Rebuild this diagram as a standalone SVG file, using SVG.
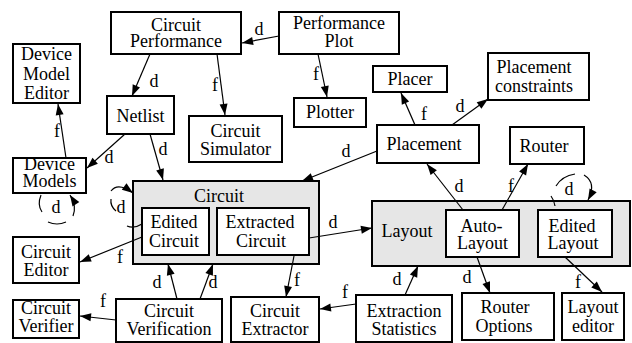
<svg xmlns="http://www.w3.org/2000/svg" width="632" height="343" viewBox="0 0 632 343">
<rect width="632" height="343" fill="#fff"/>
<g font-family="Liberation Serif" font-size="18" text-anchor="middle" fill="#000">
<g id="circuit-group">
<rect fill="#e6e6e6" stroke="#000" stroke-width="2" x="133" y="181" width="186" height="83"/>
<text font-family="Liberation Serif" x="219" y="202">Circuit</text>
</g>
<g id="layout-group">
<rect fill="#e6e6e6" stroke="#000" stroke-width="2" x="372" y="201" width="258" height="65"/>
<text font-family="Liberation Serif" x="407" y="237">Layout</text>
</g>
<g id="circuit-performance">
<rect fill="#fff" stroke="#000" stroke-width="2" x="111" y="12" width="130" height="42"/>
<text font-family="Liberation Serif" x="176" y="31">Circuit</text>
<text font-family="Liberation Serif" x="176" y="47">Performance</text>
</g>
<g id="performance-plot">
<rect fill="#fff" stroke="#000" stroke-width="2" x="279" y="12" width="120" height="42"/>
<text font-family="Liberation Serif" x="339" y="29">Performance</text>
<text font-family="Liberation Serif" x="339" y="47">Plot</text>
</g>
<g id="device-model-editor">
<rect fill="#fff" stroke="#000" stroke-width="2" x="13" y="44" width="67" height="59"/>
<text font-family="Liberation Serif" x="46.5" y="60">Device</text>
<text font-family="Liberation Serif" x="46.5" y="80">Model</text>
<text font-family="Liberation Serif" x="46.5" y="99">Editor</text>
</g>
<g id="netlist">
<rect fill="#fff" stroke="#000" stroke-width="2" x="107" y="96" width="67" height="38"/>
<text font-family="Liberation Serif" x="140.5" y="122">Netlist</text>
</g>
<g id="circuit-simulator">
<rect fill="#fff" stroke="#000" stroke-width="2" x="189" y="116" width="93" height="46"/>
<text font-family="Liberation Serif" x="235.5" y="137">Circuit</text>
<text font-family="Liberation Serif" x="235.5" y="155">Simulator</text>
</g>
<g id="plotter">
<rect fill="#fff" stroke="#000" stroke-width="2" x="294" y="98" width="72" height="29"/>
<text font-family="Liberation Serif" x="330" y="118">Plotter</text>
</g>
<g id="placer">
<rect fill="#fff" stroke="#000" stroke-width="2" x="373" y="66" width="74" height="26"/>
<text font-family="Liberation Serif" x="410" y="85">Placer</text>
</g>
<g id="placement-constraints">
<rect fill="#fff" stroke="#000" stroke-width="2" x="488" y="53" width="101" height="47"/>
<text font-family="Liberation Serif" x="534" y="73">Placement</text>
<text font-family="Liberation Serif" x="534" y="92">constraints</text>
</g>
<g id="placement">
<rect fill="#fff" stroke="#000" stroke-width="2" x="377" y="125" width="102" height="38"/>
<text font-family="Liberation Serif" x="424" y="150">Placement</text>
</g>
<g id="router">
<rect fill="#fff" stroke="#000" stroke-width="2" x="510" y="127" width="74" height="37"/>
<text font-family="Liberation Serif" x="544" y="152">Router</text>
</g>
<g id="device-models">
<rect fill="#fff" stroke="#000" stroke-width="2" x="13" y="158" width="73" height="35"/>
<text font-family="Liberation Serif" x="49.5" y="170">Device</text>
<text font-family="Liberation Serif" x="49.5" y="187">Models</text>
</g>
<g id="edited-circuit">
<rect fill="#fff" stroke="#000" stroke-width="2" x="142" y="208" width="67" height="47"/>
<text font-family="Liberation Serif" x="174" y="228">Edited</text>
<text font-family="Liberation Serif" x="174" y="247">Circuit</text>
</g>
<g id="extracted-circuit">
<rect fill="#fff" stroke="#000" stroke-width="2" x="217" y="208" width="92" height="47"/>
<text font-family="Liberation Serif" x="260" y="228">Extracted</text>
<text font-family="Liberation Serif" x="261" y="247">Circuit</text>
</g>
<g id="auto-layout">
<rect fill="#fff" stroke="#000" stroke-width="2" x="446" y="210" width="73" height="47"/>
<text font-family="Liberation Serif" x="481.5" y="232">Auto-</text>
<text font-family="Liberation Serif" x="482.5" y="249">Layout</text>
</g>
<g id="edited-layout">
<rect fill="#fff" stroke="#000" stroke-width="2" x="538" y="210" width="74" height="47"/>
<text font-family="Liberation Serif" x="572" y="232">Edited</text>
<text font-family="Liberation Serif" x="573" y="249">Layout</text>
</g>
<g id="circuit-editor">
<rect fill="#fff" stroke="#000" stroke-width="2" x="13" y="237" width="66" height="46"/>
<text font-family="Liberation Serif" x="46" y="258">Circuit</text>
<text font-family="Liberation Serif" x="46" y="276">Editor</text>
</g>
<g id="circuit-verifier">
<rect fill="#fff" stroke="#000" stroke-width="2" x="13" y="300" width="66" height="38"/>
<text font-family="Liberation Serif" x="46" y="314">Circuit</text>
<text font-family="Liberation Serif" x="46" y="332">Verifier</text>
</g>
<g id="circuit-verification">
<rect fill="#fff" stroke="#000" stroke-width="2" x="116" y="299" width="106" height="43"/>
<text font-family="Liberation Serif" x="169" y="317">Circuit</text>
<text font-family="Liberation Serif" x="169" y="335">Verification</text>
</g>
<g id="circuit-extractor">
<rect fill="#fff" stroke="#000" stroke-width="2" x="231" y="297" width="88" height="45"/>
<text font-family="Liberation Serif" x="275" y="317">Circuit</text>
<text font-family="Liberation Serif" x="275" y="335">Extractor</text>
</g>
<g id="extraction-statistics">
<rect fill="#fff" stroke="#000" stroke-width="2" x="356" y="295" width="96" height="47"/>
<text font-family="Liberation Serif" x="404" y="317">Extraction</text>
<text font-family="Liberation Serif" x="404" y="335">Statistics</text>
</g>
<g id="router-options">
<rect fill="#fff" stroke="#000" stroke-width="2" x="462" y="293" width="92" height="47"/>
<text font-family="Liberation Serif" x="505" y="313">Router</text>
<text font-family="Liberation Serif" x="504" y="332">Options</text>
</g>
<g id="layout-editor">
<rect fill="#fff" stroke="#000" stroke-width="2" x="562" y="293" width="62" height="47"/>
<text font-family="Liberation Serif" x="593" y="313">Layout</text>
<text font-family="Liberation Serif" x="593" y="332">editor</text>
</g>
</g>

<g id="connectors">
<g fill="none" stroke="#000" stroke-width="1.2">
<path d="M279 36 L242 43"/>
<path d="M318 54 L327 97"/>
<path d="M150 54 L132 96"/>
<path d="M217 54 L225 115"/>
<path d="M125 134 L87 168"/>
<path d="M150 134 L163 180"/>
<path d="M66 158 L58 104"/>
<path d="M41 195 Q37 205 42 212"/>
<path d="M48 222 Q57 226 66 222"/>
<path d="M73 216 Q77 206 70 195"/>
<path d="M111 191 Q118 182 133 193"/>
<path d="M111 199 Q110 206 116 211"/>
<path d="M127 226 Q134 229 142 224"/>
<path d="M142 237 L80 262"/>
<path d="M177 299 L168 264"/>
<path d="M200 299 L213 264"/>
<path d="M116 320 L80 316"/>
<path d="M294 256 L286 297"/>
<path d="M356 304 L320 309"/>
<path d="M405 295 L418 266"/>
<path d="M309 238 L372 228"/>
<path d="M377 151 L302 181"/>
<path d="M415 125 L401 93"/>
<path d="M452 125 L488 99"/>
<path d="M463 210 L427 164"/>
<path d="M502 210 L528 164"/>
<path d="M551 196 Q554 200 555 206"/>
<path d="M556 186 Q562 176 575 174"/>
<path d="M584 175 Q597 183 588 200"/>
<path d="M477 257 L490 293"/>
<path d="M565 257 L602 292"/>
</g>
<g fill="#000" stroke="none">
<polygon points="242,43 252.1,37.0 253.6,44.9"/>
<polygon points="327,97 320.8,87.1 328.7,85.4"/>
<polygon points="132,96 132.7,84.3 140.0,87.5"/>
<polygon points="225,115 219.6,104.6 227.5,103.6"/>
<polygon points="87,168 92.5,157.7 97.9,163.7"/>
<polygon points="163,180 156.2,170.5 163.9,168.3"/>
<polygon points="58,104 63.6,114.3 55.7,115.5"/>
<polygon points="70,195 79.3,202.1 72.5,206.4"/>
<polygon points="133,193 121.8,189.7 126.5,183.3"/>
<polygon points="80,262 88.7,254.2 91.7,261.6"/>
<polygon points="168,264 174.6,273.7 166.9,275.7"/>
<polygon points="213,264 212.9,275.7 205.4,272.9"/>
<polygon points="80,316 91.4,313.2 90.5,321.2"/>
<polygon points="286,297 284.2,285.4 292.0,287.0"/>
<polygon points="320,309 330.3,303.5 331.4,311.5"/>
<polygon points="418,266 417.2,277.7 409.9,274.4"/>
<polygon points="372,228 361.8,233.7 360.5,225.8"/>
<polygon points="302,181 310.7,173.2 313.7,180.6"/>
<polygon points="401,93 409.1,101.5 401.8,104.7"/>
<polygon points="488,99 481.4,108.7 476.7,102.2"/>
<polygon points="427,164 436.9,170.2 430.6,175.1"/>
<polygon points="528,164 526.1,175.6 519.1,171.6"/>
<polygon points="588,200 589.6,188.4 596.7,192.2"/>
<polygon points="490,293 482.5,284.0 490.0,281.3"/>
<polygon points="602,292 591.3,287.4 596.8,281.5"/>
</g>
<g font-family="Liberation Serif" font-size="18" text-anchor="middle" fill="#000">
<text font-family="Liberation Serif" x="259" y="35">d</text>
<text font-family="Liberation Serif" x="316" y="80">f</text>
<text font-family="Liberation Serif" x="154" y="87">d</text>
<text font-family="Liberation Serif" x="215" y="91">f</text>
<text font-family="Liberation Serif" x="109" y="163">d</text>
<text font-family="Liberation Serif" x="163" y="155">d</text>
<text font-family="Liberation Serif" x="57" y="137">f</text>
<text font-family="Liberation Serif" x="56" y="213">d</text>
<text font-family="Liberation Serif" x="121" y="213">d</text>
<text font-family="Liberation Serif" x="120" y="263">f</text>
<text font-family="Liberation Serif" x="157" y="288">d</text>
<text font-family="Liberation Serif" x="213" y="288">d</text>
<text font-family="Liberation Serif" x="103" y="307">f</text>
<text font-family="Liberation Serif" x="297" y="286">f</text>
<text font-family="Liberation Serif" x="345" y="298">f</text>
<text font-family="Liberation Serif" x="397" y="285">d</text>
<text font-family="Liberation Serif" x="333" y="228">d</text>
<text font-family="Liberation Serif" x="346" y="157">d</text>
<text font-family="Liberation Serif" x="424" y="120">f</text>
<text font-family="Liberation Serif" x="460" y="112">d</text>
<text font-family="Liberation Serif" x="459" y="192">d</text>
<text font-family="Liberation Serif" x="511" y="192">f</text>
<text font-family="Liberation Serif" x="569" y="195">d</text>
<text font-family="Liberation Serif" x="467" y="283">d</text>
<text font-family="Liberation Serif" x="578" y="288">f</text>
</g>
</g>
</svg>
